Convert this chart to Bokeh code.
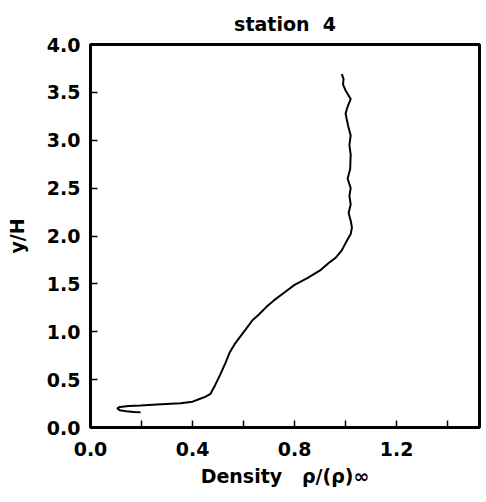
from bokeh.plotting import figure
from bokeh.models import Range1d, FixedTicker, PrintfTickFormatter
from bokeh.embed import file_html
from bokeh.resources import INLINE

# Density profile at station 4
density = [0.196, 0.17, 0.14, 0.115, 0.105, 0.115, 0.15, 0.196, 0.26, 0.353, 0.40, 0.43,
           0.45, 0.47, 0.49, 0.51, 0.53, 0.545, 0.565, 0.59, 0.61, 0.635, 0.66, 0.69,
           0.72, 0.76, 0.80, 0.85, 0.90, 0.935, 0.96, 0.985, 1.005, 1.02, 1.025, 1.02,
           1.012, 1.02, 1.015, 1.02, 1.008, 1.018, 1.02, 1.015, 1.02, 1.01, 1.0, 1.008,
           1.02, 1.0, 0.99, 0.992, 0.985]
y_over_h = [0.16, 0.163, 0.17, 0.18, 0.20, 0.215, 0.225, 0.23, 0.24, 0.253, 0.27, 0.30,
            0.32, 0.35, 0.45, 0.56, 0.68, 0.78, 0.87, 0.96, 1.03, 1.12, 1.18, 1.26,
            1.33, 1.41, 1.49, 1.56, 1.64, 1.72, 1.77, 1.85, 1.95, 2.02, 2.09, 2.16,
            2.24, 2.33, 2.42, 2.50, 2.60, 2.70, 2.85, 2.95, 3.05, 3.15, 3.28, 3.35,
            3.43, 3.52, 3.58, 3.64, 3.69]

x_major = [0.0, 0.4, 0.8, 1.2]
x_minor = [0.2, 0.6, 1.0, 1.4]
y_ticks = [0.0, 0.5, 1.0, 1.5, 2.0, 2.5, 3.0, 3.5, 4.0]

FONT = "DejaVu Sans"

p = figure(width=481, height=494, output_backend="svg", toolbar_location=None,
           x_range=Range1d(0, 1.525), y_range=Range1d(0, 4.0),
           min_border_left=90, min_border_right=2, min_border_top=40, min_border_bottom=67)

p.line(density, y_over_h, line_color="black", line_width=2)

p.title.text = "station\u00a0\u00a04"
p.title.align = "center"
p.title.text_font = FONT
p.title.text_font_size = "19px"
p.title.text_font_style = "bold"
p.title.text_color = "black"
p.title.standoff = 20

p.grid.visible = False
p.outline_line_color = "black"
p.outline_line_width = 3
p.background_fill_color = "white"
p.border_fill_color = "white"

p.xaxis.ticker = FixedTicker(ticks=x_major, minor_ticks=x_minor)
p.yaxis.ticker = FixedTicker(ticks=y_ticks)
p.xaxis.formatter = PrintfTickFormatter(format="%.1f")
p.yaxis.formatter = PrintfTickFormatter(format="%.1f")

for ax in (p.xaxis, p.yaxis):
    ax.axis_line_color = None
    ax.major_tick_in = 7
    ax.major_tick_out = 0
    ax.major_tick_line_width = 1.5
    ax.major_tick_line_color = "black"
    ax.minor_tick_in = 7
    ax.minor_tick_out = 0
    ax.minor_tick_line_width = 1.5
    ax.minor_tick_line_color = "black"
    ax.major_label_text_font = FONT
    ax.major_label_text_font_size = "19px"
    ax.major_label_text_font_style = "bold"
    ax.major_label_text_color = "black"
    ax.axis_label_text_font = FONT
    ax.axis_label_text_font_size = "19px"
    ax.axis_label_text_font_style = "bold"
    ax.axis_label_text_color = "black"

p.xaxis.major_label_standoff = 14
p.yaxis.major_label_standoff = 10
p.yaxis.axis_label = "y/H"
p.yaxis.axis_label_standoff = 16
p.xaxis.axis_label = "Density\u00a0\u00a0\u00a0ρ/(ρ)∞"
p.xaxis.axis_label_standoff = 6

open("out.html", "w").write(file_html(p, INLINE))
